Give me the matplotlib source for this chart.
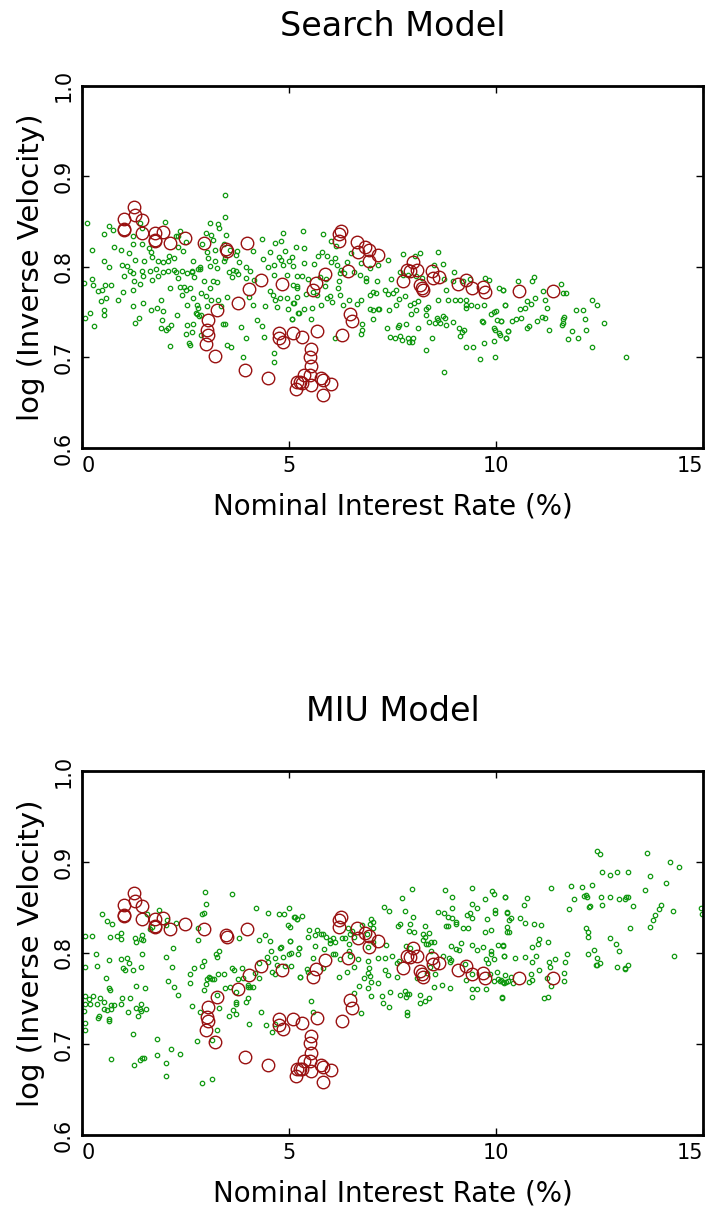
import numpy as np
import matplotlib
matplotlib.use("Agg")
import matplotlib.pyplot as plt

plt.rcParams['font.family'] = ['DejaVu Sans']

# red circles (same observations in both panels)
obs_rate = [1.26, 1.02, 1.27, 1.45, 1.01, 1.01, 1.44, 1.76, 1.76, 1.76, 1.96, 2.13, 2.49, 2.95,
            3.47, 3.50, 3.98, 4.33, 4.04, 4.82, 3.77, 3.26, 3.05, 3.02, 3.05, 3.00, 3.21, 3.94,
            4.49, 4.76, 4.76, 4.85, 5.09, 5.19, 5.17, 6.26, 6.21, 6.20, 6.65, 6.66, 6.84, 6.93,
            7.15, 6.92, 6.43, 5.87, 5.64, 5.59, 6.48, 6.53, 5.68, 6.27, 5.31, 5.53, 5.50, 5.52,
            5.35, 5.50, 5.77, 5.82, 5.27, 5.31, 5.52, 6.02, 5.82, 7.84, 7.92, 7.99, 8.10, 7.75,
            8.16, 8.22, 8.24, 8.46, 8.47, 8.62, 9.08, 9.27, 9.42, 9.68, 9.73, 10.55, 11.38]
obs_vel = [0.866, 0.853, 0.857, 0.852, 0.841, 0.842, 0.837, 0.837, 0.829, 0.830, 0.839, 0.826, 0.832, 0.826,
           0.820, 0.818, 0.826, 0.786, 0.776, 0.781, 0.760, 0.752, 0.741, 0.730, 0.725, 0.715, 0.702, 0.686,
           0.677, 0.727, 0.721, 0.717, 0.727, 0.673, 0.665, 0.840, 0.836, 0.829, 0.828, 0.816, 0.822, 0.819,
           0.813, 0.807, 0.795, 0.792, 0.782, 0.774, 0.748, 0.740, 0.729, 0.725, 0.723, 0.709, 0.701, 0.690,
           0.681, 0.681, 0.677, 0.675, 0.673, 0.672, 0.670, 0.671, 0.658, 0.797, 0.796, 0.805, 0.797, 0.784,
           0.780, 0.777, 0.774, 0.795, 0.788, 0.789, 0.781, 0.786, 0.777, 0.778, 0.772, 0.773, 0.773]

# simulated points, search model
search_rate = [3.46, 3.45, 0.13, 0.65, 0.75, 0.53, 1.23, 1.41, 2.00, 1.44, 0.78, 0.25, 0.94, 1.13, 1.28,
               0.53, 0.64, 0.97, 1.08, 1.01, 1.15, 1.24, 0.23, 0.27, 0.05, 0.56, 0.71, 0.39, 0.48, 0.57,
               0.47, 0.86, 0.98, 1.22, 1.25, 1.41, 1.48, 1.45, 1.64, 1.69, 1.78, 1.84, 1.96, 2.08, 2.13,
               2.21, 2.27, 2.31, 2.41, 2.53, 2.65, 2.71, 2.79, 2.84, 0.06, 0.19, 0.28, 0.53, 0.53, 1.23,
               1.29, 1.38, 1.48, 1.66, 1.81, 1.91, 1.96, 1.92, 2.02, 2.08, 2.14, 2.13, 2.29, 2.41, 2.46,
               2.52, 2.54, 2.54, 2.50, 2.58, 2.62, 2.67, 2.67, 2.75, 2.77, 2.82, 2.87, 2.88, 2.95, 3.00,
               3.02, 3.09, 3.12, 3.17, 3.25, 3.28, 3.35, 3.40, 3.46, 3.51, 3.54, 3.63, 3.65, 3.72, 3.77,
               3.83, 3.96, 4.06, 3.90, 3.96, 4.22, 4.34, 3.50, 3.61, 4.14, 4.41, 4.40, 4.55, 4.61, 4.67,
               4.77, 4.71, 4.64, 4.64, 4.95, 5.08, 5.23, 4.97, 5.10, 4.85, 4.67, 4.81, 4.91, 4.76, 4.81,
               5.00, 4.85, 4.96, 5.09, 5.19, 4.35, 4.14, 4.37, 4.55, 4.64, 4.50, 4.63, 4.15, 4.03, 3.97,
               3.78, 3.72, 3.74, 3.58, 3.45, 3.43, 3.21, 3.27, 3.09, 3.02, 3.12, 3.16, 3.10, 3.29, 3.32,
               3.20, 3.04, 2.85, 2.66, 2.45, 2.33, 2.22, 2.08, 2.10, 1.95, 1.83, 1.69, 1.66, 1.62, 1.50,
               1.45, 1.24, 2.27, 2.31, 2.36, 2.52, 2.90, 2.99, 3.42, 3.48, 2.65, 2.77, 2.87, 2.81, 2.69,
               2.61, 2.37, 1.91,
               5.34, 5.82, 6.02, 6.13, 5.16, 5.36, 5.69, 5.79, 5.91, 6.10, 6.02, 6.17, 6.40, 6.49, 6.73,
               6.95, 7.14, 7.39, 7.75, 8.04, 8.16, 8.61, 8.50, 8.71, 8.99, 5.06, 5.09, 5.35, 5.61, 5.19,
               5.32, 5.47, 5.75, 5.90, 6.22, 6.26, 6.33, 6.57, 6.71, 6.86, 6.85, 7.13, 7.46, 7.59, 7.67,
               7.75, 7.87, 8.07, 8.22, 8.75, 8.97, 9.20, 9.38, 9.74, 9.84, 10.06, 10.16, 5.20, 5.20, 5.40,
               5.59, 5.68, 5.87, 6.00, 6.19, 6.21, 6.22, 6.04, 5.91, 5.77, 5.55, 5.37, 5.22, 5.07, 5.11,
               6.30, 6.46, 6.63, 6.75, 6.96, 7.02, 7.10, 6.96, 7.02, 7.15, 7.18, 7.33, 7.38, 7.52, 7.41,
               7.59, 7.65, 7.79, 7.92, 8.02, 8.12, 7.95, 8.07, 8.31, 8.36, 8.32, 8.39, 8.57, 8.61, 8.72,
               8.77, 8.61, 8.80, 8.84, 9.01, 9.13, 9.28, 9.28, 9.27, 9.40, 9.54, 9.72, 9.87, 9.69, 9.95,
               10.01, 10.21, 10.03, 9.94, 9.98, 10.07, 10.24, 10.28, 9.65, 7.36, 7.65, 7.63, 7.44, 7.56,
               7.69, 7.73, 7.88, 7.91, 7.97, 7.99, 8.12, 7.83, 8.32, 8.46, 8.74, 6.76, 6.73, 6.76, 7.02,
               6.11, 5.52, 9.14, 9.18, 9.22, 9.11, 9.27, 9.45, 9.62, 9.71, 9.94, 9.98, 8.97, 8.78, 8.64,
               8.53, 10.13,
               10.54, 10.88, 10.92, 11.56, 11.61, 11.70, 11.14, 10.16, 10.93, 11.19, 10.22, 10.75, 10.85,
               10.70, 10.57, 11.23, 12.33, 12.45, 11.94, 12.10, 10.61, 10.48, 10.39, 10.13, 11.12, 11.19,
               10.98, 11.63, 11.61, 11.61, 11.60, 10.80, 10.75, 11.29, 12.14, 12.61, 10.29, 11.84, 12.17,
               10.24, 11.73, 11.97, 12.32, 13.15, 10.09]
search_vel = [0.879, 0.855, 0.848, 0.845, 0.841, 0.836, 0.834, 0.848, 0.850, 0.843, 0.822, 0.819, 0.819, 0.815, 0.808,
              0.806, 0.800, 0.802, 0.801, 0.790, 0.795, 0.793, 0.787, 0.780, 0.782, 0.780, 0.780, 0.773, 0.774, 0.766,
              0.762, 0.764, 0.772, 0.775, 0.785, 0.781, 0.790, 0.796, 0.796, 0.786, 0.798, 0.790, 0.794, 0.796, 0.777,
              0.797, 0.794, 0.788, 0.795, 0.793, 0.794, 0.789, 0.798, 0.800, 0.744, 0.749, 0.735, 0.752, 0.747, 0.757,
              0.738, 0.744, 0.760, 0.752, 0.755, 0.763, 0.751, 0.741, 0.730, 0.733, 0.736, 0.713, 0.747, 0.769, 0.778,
              0.774, 0.758, 0.736, 0.726, 0.716, 0.714, 0.806, 0.737, 0.749, 0.758, 0.746, 0.771, 0.725, 0.785, 0.768,
              0.757, 0.777, 0.764, 0.785, 0.783, 0.764, 0.757, 0.737, 0.737, 0.767, 0.794, 0.789, 0.797, 0.796, 0.792,
              0.734, 0.788, 0.795, 0.700, 0.722, 0.741, 0.735, 0.714, 0.712, 0.758, 0.757, 0.723, 0.773, 0.769, 0.763,
              0.766, 0.756, 0.705, 0.695, 0.766, 0.742, 0.749, 0.753, 0.760, 0.838, 0.826, 0.829, 0.818, 0.811, 0.808,
              0.807, 0.802, 0.791, 0.780, 0.777, 0.831, 0.818, 0.809, 0.816, 0.802, 0.800, 0.791, 0.786, 0.767, 0.800,
              0.805, 0.813, 0.818, 0.819, 0.810, 0.807, 0.806, 0.799, 0.801, 0.816, 0.835, 0.830, 0.849, 0.847, 0.843,
              0.819, 0.810, 0.798, 0.796, 0.818, 0.822, 0.810, 0.807, 0.812, 0.805, 0.806, 0.811, 0.817, 0.821, 0.807,
              0.825, 0.825, 0.834, 0.834, 0.840, 0.828, 0.825, 0.837, 0.825, 0.835, 0.728, 0.748, 0.747, 0.755, 0.766,
              0.777, 0.778, 0.733,
              0.840, 0.836, 0.829, 0.823, 0.822, 0.821, 0.812, 0.816, 0.812, 0.810, 0.805, 0.802, 0.805, 0.815, 0.804,
              0.799, 0.802, 0.808, 0.814, 0.812, 0.815, 0.816, 0.802, 0.803, 0.794, 0.811, 0.801, 0.804, 0.803, 0.790,
              0.790, 0.787, 0.789, 0.787, 0.793, 0.797, 0.793, 0.794, 0.791, 0.788, 0.785, 0.785, 0.787, 0.774, 0.794,
              0.791, 0.791, 0.790, 0.788, 0.787, 0.785, 0.785, 0.787, 0.788, 0.786, 0.777, 0.774, 0.779, 0.767, 0.770,
              0.772, 0.769, 0.779, 0.768, 0.777, 0.785, 0.769, 0.761, 0.766, 0.758, 0.755, 0.754, 0.749, 0.743, 0.760,
              0.758, 0.764, 0.759, 0.763, 0.769, 0.772, 0.771, 0.754, 0.752, 0.753, 0.753, 0.774, 0.770, 0.771, 0.752,
              0.758, 0.765, 0.768, 0.758, 0.760, 0.762, 0.748, 0.752, 0.754, 0.756, 0.747, 0.739, 0.744, 0.741, 0.746,
              0.744, 0.764, 0.774, 0.764, 0.764, 0.764, 0.758, 0.755, 0.764, 0.758, 0.757, 0.758, 0.748, 0.739, 0.750,
              0.751, 0.758, 0.741, 0.732, 0.730, 0.727, 0.721, 0.729, 0.740, 0.733, 0.736, 0.734, 0.723, 0.722,
              0.724, 0.719, 0.722, 0.717, 0.717, 0.721, 0.733, 0.737, 0.708, 0.722, 0.684, 0.737, 0.726, 0.730, 0.742,
              0.722, 0.743, 0.724, 0.728, 0.730, 0.733, 0.711, 0.711, 0.698, 0.716, 0.718, 0.701, 0.739, 0.736, 0.738,
              0.738, 0.740,
              0.785, 0.785, 0.789, 0.781, 0.771, 0.771, 0.773, 0.775, 0.766, 0.763, 0.758, 0.762, 0.759,
              0.755, 0.754, 0.755, 0.764, 0.758, 0.752, 0.752, 0.744, 0.742, 0.740, 0.740, 0.745, 0.744,
              0.740, 0.745, 0.742, 0.738, 0.736, 0.735, 0.732, 0.730, 0.742, 0.738, 0.729, 0.729, 0.730,
              0.721, 0.720, 0.722, 0.711, 0.700, 0.725]

# simulated points, MIU model
miu_rate = [2.96, 3.63, 2.99, 2.89, 2.94, 1.86, 0.49, 0.61, 0.72, 1.58, 1.64, 1.69, 2.06, 2.03, 2.26,
            2.79, 2.81, 0.07, 0.25, 0.68, 0.84, 0.93, 0.94, 1.28, 1.42, 1.48, 1.44, 1.31, 2.20, 0.33,
            0.08, 0.36, 0.64, 0.93, 1.08, 1.14, 1.00, 1.04, 1.23, 1.42, 1.46, 2.04, 2.17, 0.57, 0.64,
            0.68, 1.31, 1.52, 2.08, 2.22, 2.31, 0.06, 0.26, 0.43, 0.16, 0.07, 0.20, 0.37, 0.54, 0.70,
            0.78, 0.96, 1.15, 0.93, 0.52, 0.60, 0.71, 0.05, 0.39, 0.42, 0.66, 0.66, 1.11, 1.31, 1.39,
            1.43, 1.43, 1.55, 1.36, 0.07, 0.07, 1.23, 1.81, 0.70, 1.26, 1.39, 1.44, 1.50, 1.81, 2.14,
            2.36, 2.03, 2.03, 2.91, 3.15, 2.77, 3.13, 3.26, 2.66, 2.85, 2.95, 2.99, 3.02, 3.07, 3.10,
            3.15, 3.19, 3.27, 3.31, 2.61, 2.61, 2.70, 2.89, 2.95, 3.23, 3.26, 3.32, 3.29, 3.43, 3.46,
            3.58, 3.63, 3.68, 3.73, 3.77, 3.86, 3.90, 4.00, 4.06, 4.12, 4.02, 4.19, 3.95, 4.00, 3.73,
            3.71, 3.65, 3.71, 3.54, 4.04, 4.33, 4.45, 4.58, 4.65, 4.27, 4.28, 4.46, 4.49, 4.57, 4.67,
            4.72, 4.79, 4.81, 4.60, 4.65, 4.86, 4.90, 5.00, 5.05, 5.24, 5.27, 5.02, 4.54, 4.28, 4.42,
            3.78, 4.21, 4.49, 4.75, 4.87, 5.00, 5.13, 5.19, 4.98,
            7.98, 8.77, 9.41, 9.91, 9.94, 10.22, 8.94, 9.73, 7.73, 9.42, 7.29, 9.54, 8.94, 7.41, 7.81,
            8.59, 8.75, 8.83, 8.94, 9.30, 9.38, 9.42, 9.78, 9.97, 9.97, 10.26, 10.31, 7.99, 6.99, 7.02,
            6.96, 5.15, 5.19, 5.32, 5.02, 7.69, 7.63, 7.93, 8.28, 8.79, 8.84, 9.03, 9.03, 9.21, 9.32,
            9.87, 9.74, 10.27, 5.49, 5.67, 5.78, 5.83, 5.90, 5.98, 6.07, 6.11, 6.29, 6.35, 6.43, 6.48,
            6.53, 6.56, 6.77, 6.88, 7.04, 5.46, 5.63, 5.02, 5.24, 5.62, 5.85, 6.00, 6.44, 6.46, 6.90,
            7.04, 7.34, 7.90, 8.03, 8.24, 8.28, 8.24, 8.30, 8.36, 8.43, 8.49, 8.37, 7.83, 7.92, 8.91,
            9.03, 9.10, 9.15, 9.41, 9.53, 9.69, 9.89, 9.87, 10.04, 10.18, 10.20, 9.76, 9.81, 9.95,
            5.05, 5.21, 5.59, 6.10, 6.07, 6.22, 6.48, 6.66, 6.90, 7.16, 7.31, 7.48, 7.60, 7.66, 8.44,
            8.71, 8.87, 8.88, 8.91, 9.24, 5.26, 5.44, 5.47, 5.82, 6.21, 6.41, 6.56, 6.93, 6.90, 6.96,
            6.81, 6.98, 7.15, 7.31, 7.39, 7.60, 8.10, 8.34, 8.53, 8.40, 9.41, 9.27, 9.43, 9.55, 9.76,
            9.42, 9.85, 9.95, 10.05, 10.13, 10.17, 10.23, 10.03, 10.14, 6.68, 6.90, 6.56, 6.98, 7.25,
            7.44, 7.69, 7.81, 7.86, 7.89, 7.83, 8.16, 8.28, 8.37, 8.16, 8.49, 8.69, 8.88, 7.28, 7.42,
            7.86, 7.85, 6.75, 5.52, 5.59,
            12.45, 12.50, 13.65, 14.21, 14.43, 12.57, 12.76, 12.93, 13.18, 13.72, 14.11, 11.34, 11.80,
            12.08, 12.33, 13.61, 10.22, 10.76, 10.68, 11.89, 12.13, 12.18, 12.19, 12.54, 12.76, 12.97,
            13.11, 13.15, 13.18, 13.30, 12.24, 12.28, 12.55, 11.77, 13.98, 13.94, 13.84, 13.80, 13.73,
            14.28, 14.96, 14.98, 10.26, 10.36, 10.57, 10.71, 10.92, 11.09, 10.27, 10.32, 10.18, 10.19,
            10.47, 10.71, 10.87, 10.96, 10.86, 11.01, 11.03, 11.26, 11.72, 11.66, 11.43, 11.29, 11.30,
            11.03, 10.85, 11.65, 11.64, 11.34, 11.22, 10.80, 10.88, 10.40, 10.35, 10.29, 10.21, 10.19,
            10.09, 10.15, 11.16, 11.25, 12.18, 12.22, 12.23, 12.21, 12.37, 12.45, 12.52, 12.41, 12.44,
            12.76, 12.90, 12.96, 12.92, 13.11, 13.11, 13.19, 13.24, 14.30]
miu_vel = [0.867, 0.865, 0.854, 0.843, 0.844, 0.847, 0.843, 0.835, 0.832, 0.843, 0.826, 0.829, 0.836, 0.831, 0.833,
           0.828, 0.814, 0.819, 0.819, 0.818, 0.819, 0.822, 0.815, 0.817, 0.815, 0.814, 0.820, 0.812, 0.806, 0.799,
           0.785, 0.786, 0.792, 0.793, 0.795, 0.789, 0.783, 0.781, 0.781, 0.785, 0.799, 0.796, 0.785, 0.772, 0.761,
           0.759, 0.764, 0.761, 0.769, 0.763, 0.754, 0.753, 0.753, 0.750, 0.749, 0.744, 0.744, 0.744, 0.746, 0.743,
           0.743, 0.750, 0.750, 0.744, 0.739, 0.737, 0.739, 0.736, 0.729, 0.731, 0.728, 0.725, 0.735, 0.740, 0.738,
           0.736, 0.744, 0.738, 0.731, 0.723, 0.715, 0.711, 0.706, 0.684, 0.677, 0.682, 0.685, 0.685, 0.688, 0.694,
           0.689, 0.679, 0.665, 0.657, 0.661, 0.703, 0.704, 0.715, 0.742, 0.735, 0.759, 0.766, 0.771, 0.774, 0.772,
           0.771, 0.771, 0.754, 0.740, 0.777, 0.767, 0.783, 0.786, 0.791, 0.799, 0.796, 0.802, 0.777, 0.777, 0.761,
           0.763, 0.783, 0.781, 0.757, 0.771, 0.783, 0.772, 0.765, 0.763, 0.763, 0.763, 0.778, 0.746, 0.750, 0.746,
           0.744, 0.737, 0.733, 0.731, 0.722, 0.735, 0.721, 0.713, 0.722, 0.772, 0.789, 0.796, 0.790, 0.802, 0.794,
           0.787, 0.805, 0.807, 0.779, 0.777, 0.796, 0.786, 0.799, 0.786, 0.805, 0.774, 0.813, 0.813, 0.814, 0.820,
           0.816, 0.850, 0.844, 0.843, 0.843, 0.849, 0.840, 0.837, 0.831,
           0.870, 0.869, 0.871, 0.868, 0.865, 0.862, 0.862, 0.859, 0.860, 0.854, 0.851, 0.850, 0.850, 0.846, 0.846,
           0.845, 0.844, 0.840, 0.839, 0.842, 0.844, 0.839, 0.837, 0.847, 0.844, 0.845, 0.836, 0.840, 0.837, 0.834,
           0.832, 0.840, 0.837, 0.841, 0.829, 0.832, 0.830, 0.832, 0.830, 0.830, 0.830, 0.834, 0.832, 0.827, 0.828,
           0.825, 0.823, 0.823, 0.825, 0.825, 0.821, 0.821, 0.818, 0.814, 0.816, 0.812, 0.816, 0.816, 0.827, 0.821,
           0.824, 0.818, 0.831, 0.821, 0.828, 0.818, 0.820, 0.813, 0.805, 0.808, 0.804, 0.811, 0.810, 0.802, 0.807,
           0.812, 0.809, 0.824, 0.823, 0.821, 0.818, 0.814, 0.810, 0.810, 0.812, 0.812, 0.822, 0.808, 0.805, 0.808,
           0.804, 0.803, 0.811, 0.809, 0.803, 0.807, 0.802, 0.799, 0.809, 0.809, 0.797, 0.793, 0.789, 0.793,
           0.800, 0.799, 0.794, 0.799, 0.799, 0.793, 0.797, 0.793, 0.791, 0.795, 0.794, 0.797, 0.789, 0.791, 0.802,
           0.797, 0.794, 0.790, 0.792, 0.788, 0.774, 0.782, 0.779, 0.783, 0.774, 0.779, 0.785, 0.783, 0.778, 0.775,
           0.772, 0.768, 0.767, 0.781, 0.776, 0.774, 0.773, 0.778, 0.777, 0.785, 0.777, 0.770, 0.760, 0.760, 0.760,
           0.752, 0.777, 0.769, 0.771, 0.770, 0.768, 0.768, 0.779, 0.752, 0.764, 0.761, 0.756, 0.753, 0.753,
           0.757, 0.754, 0.758, 0.755, 0.755, 0.752, 0.754, 0.747, 0.750, 0.745, 0.763, 0.765, 0.761, 0.745, 0.741,
           0.735, 0.732, 0.734, 0.747, 0.735,
           0.912, 0.909, 0.910, 0.900, 0.895, 0.889, 0.886, 0.889, 0.889, 0.885, 0.877, 0.871, 0.874,
           0.872, 0.875, 0.869, 0.862, 0.860, 0.853, 0.859, 0.863, 0.864, 0.861, 0.862, 0.862, 0.859,
           0.859, 0.862, 0.861, 0.852, 0.851, 0.852, 0.853, 0.848, 0.853, 0.848, 0.842, 0.836, 0.829,
           0.846, 0.850, 0.843, 0.844, 0.839, 0.839, 0.833, 0.832, 0.831, 0.829, 0.823, 0.808, 0.797,
           0.794, 0.796, 0.790, 0.797, 0.807, 0.810, 0.815, 0.812, 0.799, 0.790, 0.793, 0.790, 0.785,
           0.781, 0.777, 0.778, 0.769, 0.764, 0.772, 0.768, 0.770, 0.767, 0.774, 0.769, 0.776, 0.767,
           0.769, 0.751, 0.751, 0.752, 0.828, 0.823, 0.818, 0.799, 0.803, 0.795, 0.789, 0.787, 0.787,
           0.816, 0.810, 0.802, 0.785, 0.784, 0.782, 0.787, 0.827, 0.797]

titles = ['Search Model', 'MIU Model']
sims = [(search_rate, search_vel), (miu_rate, miu_vel)]
xticks = [0, 5, 10, 15]
yticks = [0.6, 0.7, 0.8, 0.9, 1.0]

fig = plt.figure(figsize=(7.17, 12.1), dpi=100)
boxes = [[0.1144, 0.6298, 0.8661, 0.2992], [0.1144, 0.0620, 0.8661, 0.3008]]

for box, title, (sx, sy) in zip(boxes, titles, sims):
    ax = fig.add_axes(box)
    ax.plot(sx, sy, 'o', ms=3.2, mfc='none', mec='#119911', mew=0.9)
    ax.plot(obs_rate, obs_vel, 'o', ms=9, mfc='none', mec='#991111', mew=1.0)
    ax.set_xlim(0, 15)
    ax.set_ylim(0.6, 1.0)
    ax.set_xticks(xticks)
    ax.set_yticks(yticks)
    ax.set_xticklabels([str(t) for t in xticks], fontsize=15)
    ax.set_yticklabels(['%.1f' % t for t in yticks], fontsize=15, rotation=90, va='center')
    labs = ax.get_xticklabels()
    labs[0].set_horizontalalignment('left')
    labs[-1].set_horizontalalignment('right')
    ax.tick_params(direction='in', length=5, width=1, top=True, right=True, pad=6)
    for s in ax.spines.values():
        s.set_linewidth(2)
    ax.set_title(title, fontsize=24, pad=36)
    ax.set_xlabel('Nominal Interest Rate (%)', fontsize=20, labelpad=12)
    ax.set_ylabel('log (Inverse Velocity)', fontsize=21, labelpad=6)

fig.savefig('out.png', dpi=100)
